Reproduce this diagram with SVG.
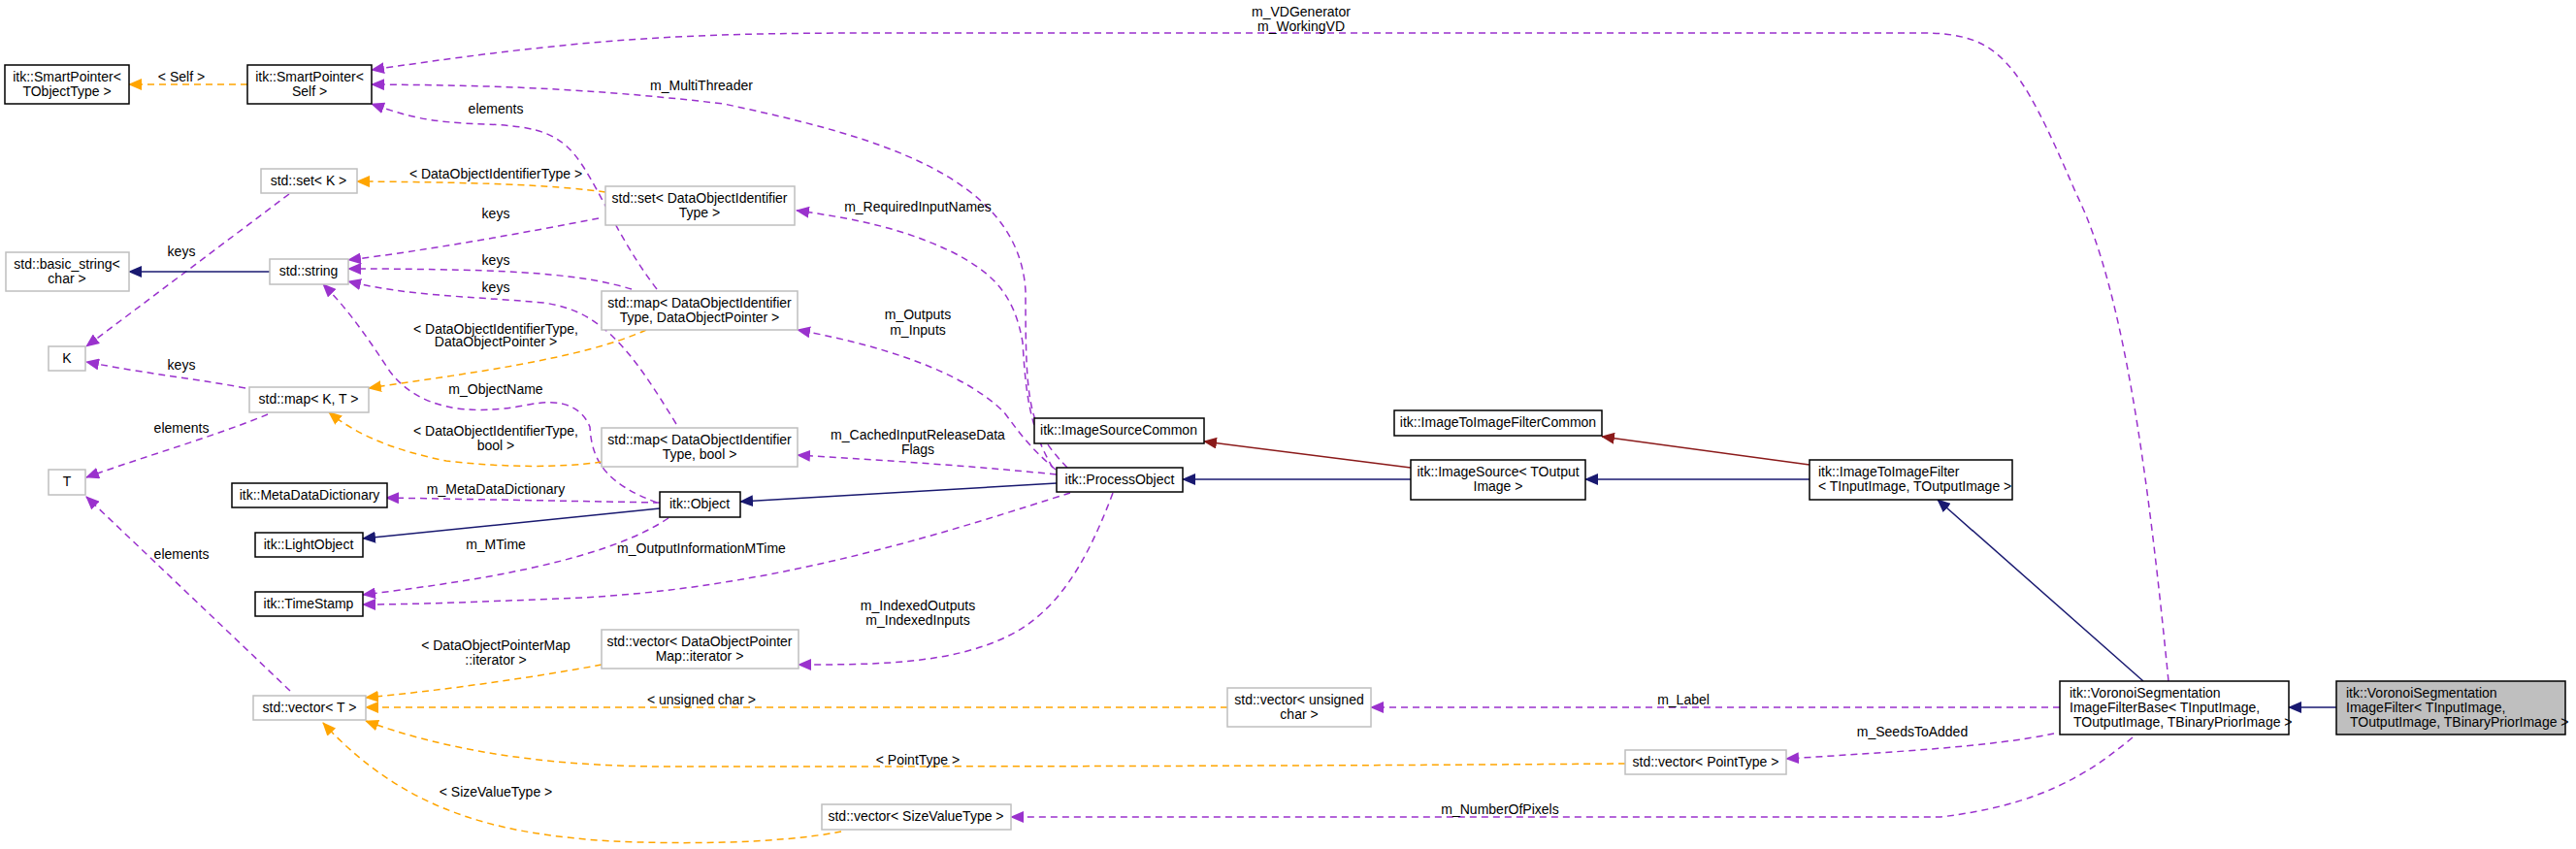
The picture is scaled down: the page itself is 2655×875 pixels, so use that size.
<svg xmlns="http://www.w3.org/2000/svg" width="2655" height="875" viewBox="0 0 2655 875">
<style>
text{font-family:"Liberation Sans",Arial,sans-serif;font-size:14px;fill:#000}
.n rect{fill:#fff;stroke:#000;stroke-width:1.5}
.g rect{fill:#fff;stroke:#bfbfbf;stroke-width:1.5}
.c text{text-anchor:middle}
.e path{fill:none;stroke-width:1.5}
.p{stroke:#9a32cd;stroke-dasharray:7,5}
.o{stroke:#ffa500;stroke-dasharray:7,5}
.b{stroke:#191970}
.r{stroke:#8b1a1a}
.lbl text{text-anchor:middle}
</style>
<defs>
<marker id="mp" markerWidth="14" markerHeight="12" refX="13" refY="6" orient="auto" markerUnits="userSpaceOnUse"><path d="M0,0L14,6L0,12z" fill="#9a32cd"/></marker>
<marker id="mo" markerWidth="14" markerHeight="12" refX="13" refY="6" orient="auto" markerUnits="userSpaceOnUse"><path d="M0,0L14,6L0,12z" fill="#ffa500"/></marker>
<marker id="mb" markerWidth="14" markerHeight="12" refX="13" refY="6" orient="auto" markerUnits="userSpaceOnUse"><path d="M0,0L14,6L0,12z" fill="#191970"/></marker>
<marker id="mr" markerWidth="14" markerHeight="12" refX="13" refY="6" orient="auto" markerUnits="userSpaceOnUse"><path d="M0,0L14,6L0,12z" fill="#8b1a1a"/></marker>
</defs>
<rect width="2655" height="875" fill="#fff"/>
<g id="edges" class="e">
<path class="o" marker-end="url(#mo)" d="M255,87L133,87"/>
<path class="p" marker-end="url(#mp)" d="M2235,702C2215,500 2190,300 2140,200C2080,60 2060,34 1980,34L900,34C700,34 600,40 383,72"/>
<path class="p" marker-end="url(#mp)" d="M1100,482C1060,440 1057,420 1057,300C1050,180 900,140 746,107C600,90 500,88 383,87"/>
<path class="p" marker-end="url(#mp)" d="M677,298C640,250 620,200 600,170C580,140 560,130 500,128C440,126 420,120 383,107"/>
<path class="o" marker-end="url(#mo)" d="M624,198C580,192 520,188 368,187"/>
<path class="p" marker-end="url(#mp)" d="M298,200L89,357"/>
<path class="b" marker-end="url(#mb)" d="M278,280L133,280"/>
<path class="p" marker-end="url(#mp)" d="M617,225C540,240 440,258 359,268"/>
<path class="p" marker-end="url(#mp)" d="M651,298C600,283 540,277 359,277"/>
<path class="p" marker-end="url(#mp)" d="M697,437C650,360 620,320 560,312C480,305 420,305 359,290"/>
<path class="o" marker-end="url(#mo)" d="M666,340C600,370 480,385 380,400"/>
<path class="p" marker-end="url(#mp)" d="M253,400C200,390 150,385 89,373"/>
<path class="p" marker-end="url(#mp)" d="M276,427C220,450 150,470 89,492"/>
<path class="p" marker-end="url(#mp)" d="M677,518C630,500 610,480 608,440C600,420 580,410 545,417C480,430 430,420 402,383C380,350 360,320 333,293"/>
<path class="o" marker-end="url(#mo)" d="M620,476C580,482 520,482 460,475C410,465 370,450 339,425"/>
<path class="p" marker-end="url(#mp)" d="M299,712L89,512"/>
<path class="p" marker-end="url(#mp)" d="M680,518L398,513"/>
<path class="b" marker-end="url(#mb)" d="M680,524L374,555"/>
<path class="p" marker-end="url(#mp)" d="M689,534C620,580 480,600 374,613"/>
<path class="p" marker-end="url(#mp)" d="M1103,508C1000,540 800,610 574,617C500,620 430,623 374,623"/>
<path class="b" marker-end="url(#mb)" d="M1089,498L763,517"/>
<path class="o" marker-end="url(#mo)" d="M620,685C540,700 450,712 377,719"/>
<path class="o" marker-end="url(#mo)" d="M1265,729L377,729"/>
<path class="o" marker-end="url(#mo)" d="M1675,787C1300,790 900,790 689,790C550,790 450,770 377,743"/>
<path class="o" marker-end="url(#mo)" d="M867,857C800,870 700,870 631,867C520,860 420,840 333,745"/>
<path class="p" marker-end="url(#mp)" d="M1085,482C1060,440 1057,400 1054,353C1045,300 1020,280 982,260C930,235 880,225 821,217"/>
<path class="p" marker-end="url(#mp)" d="M1088,484C1060,460 1050,445 1035,425C1000,390 930,360 822,340"/>
<path class="p" marker-end="url(#mp)" d="M1089,489C1000,480 920,475 822,469"/>
<path class="p" marker-end="url(#mp)" d="M1147,508C1120,580 1090,630 1040,655C980,685 900,685 823,685"/>
<path class="b" marker-end="url(#mb)" d="M1454,494L1219,494"/>
<path class="r" marker-end="url(#mr)" d="M1454,482L1241,455"/>
<path class="b" marker-end="url(#mb)" d="M1865,494L1634,494"/>
<path class="r" marker-end="url(#mr)" d="M1865,479L1651,450"/>
<path class="b" marker-end="url(#mb)" d="M2209,702L1997,515"/>
<path class="p" marker-end="url(#mp)" d="M2123,729L1413,729"/>
<path class="p" marker-end="url(#mp)" d="M2117,756C2050,770 1950,775 1841,782"/>
<path class="p" marker-end="url(#mp)" d="M2198,760C2150,800 2100,830 2000,842L1042,842"/>
<path class="b" marker-end="url(#mb)" d="M2408,729L2359,729"/>
<g class="lbl">
<text x="1341" y="17">m_VDGenerator</text><text x="1341" y="32">m_WorkingVD</text>
<text x="187" y="84">&lt; Self &gt;</text>
<text x="723" y="93">m_MultiThreader</text>
<text x="511" y="117">elements</text>
<text x="511" y="184">&lt; DataObjectIdentifierType &gt;</text>
<text x="946" y="218">m_RequiredInputNames</text>
<text x="511" y="225">keys</text>
<text x="187" y="264">keys</text>
<text x="511" y="273">keys</text>
<text x="511" y="301">keys</text>
<text x="946" y="329">m_Outputs</text><text x="946" y="345">m_Inputs</text>
<text x="511" y="344">&lt; DataObjectIdentifierType,</text><text x="511" y="357">DataObjectPointer &gt;</text>
<text x="187" y="381">keys</text>
<text x="511" y="406">m_ObjectName</text>
<text x="187" y="446">elements</text>
<text x="511" y="449">&lt; DataObjectIdentifierType,</text><text x="511" y="464">bool &gt;</text>
<text x="946" y="453">m_CachedInputReleaseData</text><text x="946" y="468">Flags</text>
<text x="511" y="509">m_MetaDataDictionary</text>
<text x="511" y="566">m_MTime</text>
<text x="723" y="570">m_OutputInformationMTime</text>
<text x="187" y="576">elements</text>
<text x="946" y="629">m_IndexedOutputs</text><text x="946" y="644">m_IndexedInputs</text>
<text x="511" y="670">&lt; DataObjectPointerMap</text><text x="511" y="685">::iterator &gt;</text>
<text x="723" y="726">&lt; unsigned char &gt;</text>
<text x="1735" y="726">m_Label</text>
<text x="1971" y="759">m_SeedsToAdded</text>
<text x="946" y="788">&lt; PointType &gt;</text>
<text x="511" y="821">&lt; SizeValueType &gt;</text>
<text x="1546" y="839">m_NumberOfPixels</text>
</g>
</g>
<g id="n1" class="n c"><rect x="5" y="67" width="128" height="40"/><text x="69" y="84">itk::SmartPointer&lt;</text><text x="69" y="99">TObjectType &gt;</text></g>
<g id="n2" class="n c"><rect x="255" y="67" width="128" height="40"/><text x="319" y="84">itk::SmartPointer&lt;</text><text x="319" y="99">Self &gt;</text></g>
<g id="n3" class="g c"><rect x="269" y="174" width="99" height="25"/><text x="318" y="191">std::set&lt; K &gt;</text></g>
<g id="n4" class="g c"><rect x="624" y="192" width="195" height="40"/><text x="721" y="209">std::set&lt; DataObjectIdentifier</text><text x="721" y="224">Type &gt;</text></g>
<g id="n5" class="g c"><rect x="6" y="260" width="127" height="40"/><text x="69" y="277">std::basic_string&lt;</text><text x="69" y="292">char &gt;</text></g>
<g id="n6" class="g c"><rect x="278" y="267" width="81" height="26"/><text x="318" y="284">std::string</text></g>
<g id="n7" class="g c"><rect x="50" y="357" width="38" height="25"/><text x="69" y="374">K</text></g>
<g id="n8" class="g c"><rect x="620" y="300" width="202" height="40"/><text x="721" y="317">std::map&lt; DataObjectIdentifier</text><text x="721" y="332">Type, DataObjectPointer &gt;</text></g>
<g id="n9" class="g c"><rect x="257" y="399" width="123" height="26"/><text x="318" y="416">std::map&lt; K, T &gt;</text></g>
<g id="n10" class="g c"><rect x="620" y="441" width="202" height="40"/><text x="721" y="458">std::map&lt; DataObjectIdentifier</text><text x="721" y="473">Type, bool &gt;</text></g>
<g id="n11" class="g c"><rect x="50" y="484" width="38" height="26"/><text x="69" y="501">T</text></g>
<g id="n12" class="n c"><rect x="239" y="498" width="160" height="25"/><text x="319" y="515">itk::MetaDataDictionary</text></g>
<g id="n13" class="n c"><rect x="680" y="507" width="83" height="26"/><text x="721" y="524">itk::Object</text></g>
<g id="n14" class="n c"><rect x="263" y="549" width="111" height="25"/><text x="318" y="566">itk::LightObject</text></g>
<g id="n15" class="n c"><rect x="263" y="610" width="111" height="25"/><text x="318" y="627">itk::TimeStamp</text></g>
<g id="n16" class="g c"><rect x="620" y="649" width="203" height="40"/><text x="721" y="666">std::vector&lt; DataObjectPointer</text><text x="721" y="681">Map::iterator &gt;</text></g>
<g id="n17" class="g c"><rect x="261" y="717" width="116" height="25"/><text x="319" y="734">std::vector&lt; T &gt;</text></g>
<g id="n18" class="g c"><rect x="1265" y="709" width="148" height="40"/><text x="1339" y="726">std::vector&lt; unsigned</text><text x="1339" y="741">char &gt;</text></g>
<g id="n19" class="g c"><rect x="1675" y="773" width="166" height="25"/><text x="1758" y="790">std::vector&lt; PointType &gt;</text></g>
<g id="n20" class="g c"><rect x="847" y="829" width="195" height="26"/><text x="944" y="846">std::vector&lt; SizeValueType &gt;</text></g>
<g id="n21" class="n c"><rect x="1089" y="482" width="130" height="25"/><text x="1154" y="499">itk::ProcessObject</text></g>
<g id="n22" class="n c"><rect x="1066" y="431" width="175" height="26"/><text x="1153" y="448">itk::ImageSourceCommon</text></g>
<g id="n23" class="n c"><rect x="1437" y="423" width="214" height="26"/><text x="1544" y="440">itk::ImageToImageFilterCommon</text></g>
<g id="n24" class="n c"><rect x="1454" y="474" width="180" height="41"/><text x="1544" y="491">itk::ImageSource&lt; TOutput</text><text x="1544" y="506">Image &gt;</text></g>
<g id="n25" class="n"><rect x="1865" y="474" width="209" height="41"/><text x="1874" y="491">itk::ImageToImageFilter</text><text x="1874" y="506">&lt; TInputImage, TOutputImage &gt;</text></g>
<g id="n26" class="n"><rect x="2123" y="702" width="236" height="55"/><text x="2133" y="719">itk::VoronoiSegmentation</text><text x="2133" y="734">ImageFilterBase&lt; TInputImage,</text><text x="2137" y="749">TOutputImage, TBinaryPriorImage &gt;</text></g>
<g id="n27" class="n"><rect x="2408" y="702" width="236" height="55" style="fill:#bfbfbf"/><text x="2418" y="719">itk::VoronoiSegmentation</text><text x="2418" y="734">ImageFilter&lt; TInputImage,</text><text x="2422" y="749">TOutputImage, TBinaryPriorImage &gt;</text></g>
</svg>
